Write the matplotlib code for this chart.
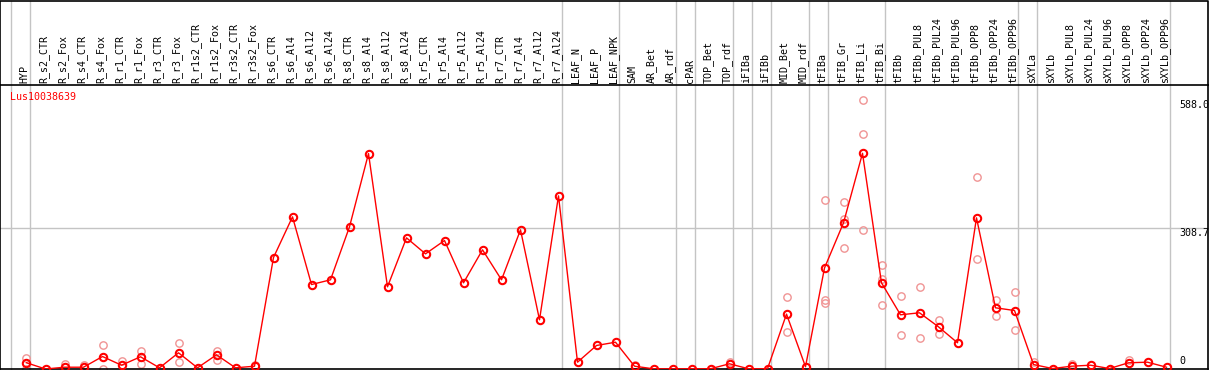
import numpy as np
import matplotlib.pyplot as plt
from matplotlib.transforms import blended_transform_factory

gene = "Lus10038639"

samples = ["HYP",
           "R_s2_CTR", "R_s2_Fox", "R_s4_CTR", "R_s4_Fox", "R_r1_CTR", "R_r1_Fox",
           "R_r3_CTR", "R_r3_Fox", "R_r1s2_CTR", "R_r1s2_Fox", "R_r3s2_CTR", "R_r3s2_Fox",
           "R_s6_CTR", "R_s6_Al4", "R_s6_Al12", "R_s6_Al24",
           "R_s8_CTR", "R_s8_Al4", "R_s8_Al12", "R_s8_Al24",
           "R_r5_CTR", "R_r5_Al4", "R_r5_Al12", "R_r5_Al24",
           "R_r7_CTR", "R_r7_Al4", "R_r7_Al12", "R_r7_Al24",
           "LEAF_N", "LEAF_P", "LEAF_NPK", "SAM", "AR_Bet", "AR_rdf", "cPAR",
           "TOP_Bet", "TOP_rdf", "iFIBa", "iFIBb", "MID_Bet", "MID_rdf",
           "tFIBa", "tFIB_Gr", "tFIB_Li", "tFIB_Bi",
           "tFIBb", "tFIBb_PUL8", "tFIBb_PUL24", "tFIBb_PUL96",
           "tFIBb_OPP8", "tFIBb_OPP24", "tFIBb_OPP96",
           "sXYLa", "sXYLb", "sXYLb_PUL8", "sXYLb_PUL24", "sXYLb_PUL96",
           "sXYLb_OPP8", "sXYLb_OPP24", "sXYLb_OPP96"]

# mean expression per sample
means = [13.6, 0.0, 3.9, 3.9, 27.3, 8.3, 26.7, 2.6, 35.4, 2.6, 31.0, 2.6, 6.1,
         243.8, 332.7, 184.7, 195.0, 310.9, 471.1, 179.7, 286.8,
         251.8, 280.9, 188.4, 260.6, 195.0, 304.3, 107.6, 378.6,
         14.9, 51.4, 58.6, 6.1, 0.4, 0.4, 0.5, 0.5, 11.4, 0.5, 0.5,
         120.0, 5.0, 220.9, 319.6, 471.7, 188.4,
         118.5, 122.9, 92.2, 57.3, 330.5, 133.8, 127.9,
         9.8, 1.0, 6.1, 8.3, 1.0, 13.6, 14.9, 3.9]

# individual replicates (sample index -> values)
replicates = {0: [23.0, 0.4], 2: [12.0], 3: [8.3], 4: [52.9, 0.0], 5: [16.4],
              6: [40.4, 11.4], 8: [57.3, 15.7], 10: [38.3, 18.6], 12: [9.2],
              32: [9.8], 37: [15.7, 0.5], 40: [157.3, 80.5],
              42: [370.0, 150.0, 144.0], 43: [365.7, 326.9, 264.8],
              44: [588.0, 514.9, 304.3], 45: [227.8, 197.8, 140.3],
              46: [160.0, 74.0], 47: [179.7, 68.2], 48: [106.7, 76.9],
              50: [420.1, 240.9], 51: [151.9, 115.4], 52: [168.8, 84.2],
              53: [14.9], 55: [11.4], 58: [19.2]}

# last sample index of each group (separator drawn after it)
group_ends = [-1, 0, 28, 31, 34, 35, 37, 38, 39, 41, 42, 45, 52, 53, 60]
y_marks = [588.0, 308.7]

font = "DejaVu Sans Mono"
fig = plt.figure(figsize=(12.09, 3.70), dpi=100)
ax = fig.add_axes([0, 1 / 370, 1208 / 1209, 284 / 370])
ax.set_xlim(-26.5 / 19, (1208 - 26.5) / 19)
ax.set_ylim(0, 621)
ax.set_xticks([])
ax.set_yticks([])
for s in ax.spines.values():
    s.set_color("black")
    s.set_linewidth(1.2)

top = 1 + 84.5 / 284
for g in group_ends:
    ax.axvline(g + 0.2, ymin=0, ymax=top, clip_on=False, color="#c4c4c4", lw=1, zorder=1)
ax.axhline(y_marks[1], color="#c4c4c4", lw=1, zorder=1)
ax.plot([0, 0, 1, 1], [1, top, top, 1], transform=ax.transAxes, color="black",
        lw=1.2, clip_on=False)

x = np.arange(len(samples))
rx, ry = [], []
for i, vals in replicates.items():
    for v in vals:
        rx.append(i)
        ry.append(v)
ax.plot(rx, ry, ls="none", marker="o", ms=5.3, mfc="none", mec="#f09494", mew=1.0, zorder=2)
ax.plot(x, means, color="red", lw=1, marker="o", ms=5.3, mfc="none", mec="red", mew=1.5, zorder=3)

trans = blended_transform_factory(ax.transData, ax.transAxes)
for i, name in enumerate(samples):
    ax.text(i - 0.1, 1 + 2 / 284, name, rotation=90, ha="center", va="bottom",
            transform=trans, fontsize=7.2, family=font)

ax.text(10 / 1208, 1 - 12 / 284, gene, color="red", transform=ax.transAxes,
        ha="left", va="center", fontsize=7.2, family=font)
for v in y_marks:
    ax.text(60.66, v, "%.1f" % v, ha="left", va="top", fontsize=7.2, family=font)
ax.text(60.66, 17, "0", ha="left", va="center", fontsize=7.2, family=font)

fig.savefig("out.png", dpi=100)
